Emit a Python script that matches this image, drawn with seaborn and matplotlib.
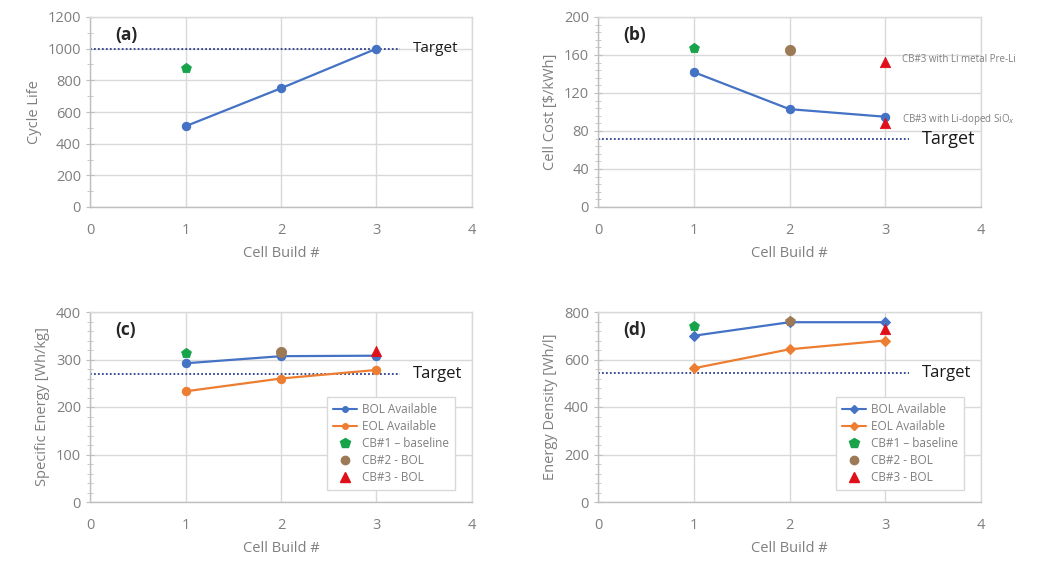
import matplotlib
matplotlib.use("Agg")
import matplotlib.pyplot as plt
from matplotlib.lines import Line2D
from matplotlib.ticker import MultipleLocator
import seaborn as sns
import pandas as pd

# ---- data -------------------------------------------------------------
builds = [1, 2, 3]

cycle_life = [510, 750, 1000]
cycle_cb1 = 875
cycle_target = 1000

cost = [142, 103, 95]
cost_cb1 = 167
cost_cb2 = 165
cost_cb3_li_metal = 153
cost_cb3_sio = 88
cost_target = 72

se_bol = [292, 307, 308]
se_eol = [233, 260, 278]
se_cb1 = 313
se_cb2 = 315
se_cb3 = 318
se_target = 270

ed_bol = [700, 757, 757]
ed_eol = [563, 643, 680]
ed_cb1 = 740
ed_cb2 = 762
ed_cb3 = 730
ed_target = 545

legend_labels = ["BOL Available", "EOL Available", "CB#1 \u2013 baseline",
                 "CB#2 - BOL", "CB#3 - BOL"]

# ---- style ------------------------------------------------------------
sns.set_style("whitegrid")
plt.rcParams["font.family"] = ["Open Sans", "DejaVu Sans"]

BLUE = "#4472C4"
ORANGE = "#ED7D31"
GREEN = "#16A34A"
BROWN = "#9C7A55"
RED = "#E0101A"
TARGET_C = "#2E3E8C"
TXT = "#7F7F7F"
GRID = "#D9D9D9"

fig = plt.figure(figsize=(10.43, 5.63), dpi=100)
W, H = 1043, 563


def make_ax(left_px, top_px, right_px, bottom_px):
    return fig.add_axes([left_px / W, 1 - bottom_px / H,
                         (right_px - left_px) / W, (bottom_px - top_px) / H])


ax_a = make_ax(90, 17, 472, 207)
ax_b = make_ax(598, 17, 981, 207)
ax_c = make_ax(90, 312, 472, 502)
ax_d = make_ax(598, 312, 981, 502)


def style_axis(ax, ymax, ymajor, yminor, ylabel, tag):
    ax.set_xlim(0, 4)
    ax.set_ylim(0, ymax)
    ax.xaxis.set_major_locator(MultipleLocator(1))
    ax.yaxis.set_major_locator(MultipleLocator(ymajor))
    ax.yaxis.set_minor_locator(MultipleLocator(yminor))
    ax.grid(True, which="major", color=GRID, linewidth=1.0)
    ax.grid(False, which="minor")
    for s in ax.spines.values():
        s.set_color(GRID)
        s.set_linewidth(1.0)
    ax.spines["left"].set_color("#BFBFBF")
    ax.spines["bottom"].set_color("#BFBFBF")
    ax.tick_params(axis="y", which="both", left=True, direction="inout",
                   colors="#BFBFBF", labelcolor=TXT, labelsize=10.5)
    ax.tick_params(axis="y", which="major", length=6)
    ax.tick_params(axis="y", which="minor", length=4)
    ax.tick_params(axis="x", bottom=False, labelcolor=TXT, labelsize=10.5, pad=8)
    ax.set_xlabel("Cell Build #", color=TXT, fontsize=10.5, labelpad=6)
    ax.set_ylabel(ylabel, color=TXT, fontsize=10.5, labelpad=4)
    ax.text(0.065, 0.955, tag, transform=ax.transAxes, fontsize=12.5,
            fontweight="bold", color="#262626", va="top", ha="left")


def target(ax, y, size=11):
    ax.plot([0, 3.25], [y, y], color=TARGET_C, linestyle=(0, (1, 1.2)),
            linewidth=1.3, zorder=2)
    ax.text(3.38, y, "Target", fontsize=size, color="#1A1A1A",
            va="center", ha="left", clip_on=False)


def series(ax, values, color, marker, msize=6):
    df = pd.DataFrame({"build": builds, "value": values})
    sns.lineplot(data=df, x="build", y="value", ax=ax, color=color,
                 marker=marker, markersize=msize, linewidth=1.6,
                 markeredgecolor=color, zorder=4)


def point(ax, x, y, color, marker, size=55):
    df = pd.DataFrame({"build": [x], "value": [y]})
    sns.scatterplot(data=df, x="build", y="value", ax=ax, color=color,
                    marker=marker, s=size, edgecolor=color, zorder=5,
                    legend=False)


# (a) cycle life
style_axis(ax_a, 1200, 200, 100, "Cycle Life", "(a)")
target(ax_a, cycle_target)
series(ax_a, cycle_life, BLUE, "o")
point(ax_a, 1, cycle_cb1, GREEN, "p")

# (b) cell cost
style_axis(ax_b, 200, 40, 8, "Cell Cost [$/kWh]", "(b)")
target(ax_b, cost_target, size=13)
series(ax_b, cost, BLUE, "o")
point(ax_b, 1, cost_cb1, GREEN, "p")
point(ax_b, 2, cost_cb2, BROWN, "o")
point(ax_b, 3, cost_cb3_li_metal, RED, "^")
point(ax_b, 3, cost_cb3_sio, RED, "^")
ax_b.text(3.17, cost_cb3_li_metal + 2, "CB#3 with Li metal Pre-Li",
          fontsize=7, color=TXT, va="center", ha="left", clip_on=False)
ax_b.text(3.17, cost_cb3_sio + 4, "CB#3 with Li-doped SiO$_x$",
          fontsize=7, color=TXT, va="center", ha="left", clip_on=False)

# (c) specific energy
style_axis(ax_c, 400, 100, 20, "Specific Energy [Wh/kg]", "(c)")
target(ax_c, se_target, size=12)
series(ax_c, se_bol, BLUE, "o")
series(ax_c, se_eol, ORANGE, "o")
point(ax_c, 1, se_cb1, GREEN, "p")
point(ax_c, 2, se_cb2, BROWN, "o")
point(ax_c, 3, se_cb3, RED, "^")

# (d) energy density
style_axis(ax_d, 800, 200, 40, "Energy Density [Wh/l]", "(d)")
target(ax_d, ed_target, size=12)
series(ax_d, ed_bol, BLUE, "D", msize=5.5)
series(ax_d, ed_eol, ORANGE, "D", msize=5.5)
point(ax_d, 1, ed_cb1, GREEN, "p")
point(ax_d, 2, ed_cb2, BROWN, "p")
point(ax_d, 3, ed_cb3, RED, "^")


def add_legend(ax, line_marker):
    handles = [
        Line2D([], [], color=BLUE, marker=line_marker, markersize=4, linewidth=1.5),
        Line2D([], [], color=ORANGE, marker=line_marker, markersize=4, linewidth=1.5),
        Line2D([], [], color=GREEN, marker="p", markersize=7, linestyle="none"),
        Line2D([], [], color=BROWN, marker="o", markersize=6, linestyle="none"),
        Line2D([], [], color=RED, marker="^", markersize=7, linestyle="none"),
    ]
    leg = ax.legend(handles, legend_labels, loc="lower right",
                    bbox_to_anchor=(0.97, 0.03), fontsize=8.5, frameon=True,
                    framealpha=1.0, edgecolor="#D9D9D9", fancybox=False,
                    handlelength=2.0, handletextpad=0.4, labelspacing=0.35,
                    borderpad=0.5)
    for t in leg.get_texts():
        t.set_color(TXT)


add_legend(ax_c, "o")
add_legend(ax_d, "D")

fig.savefig("out.png", dpi=100, facecolor="white")
